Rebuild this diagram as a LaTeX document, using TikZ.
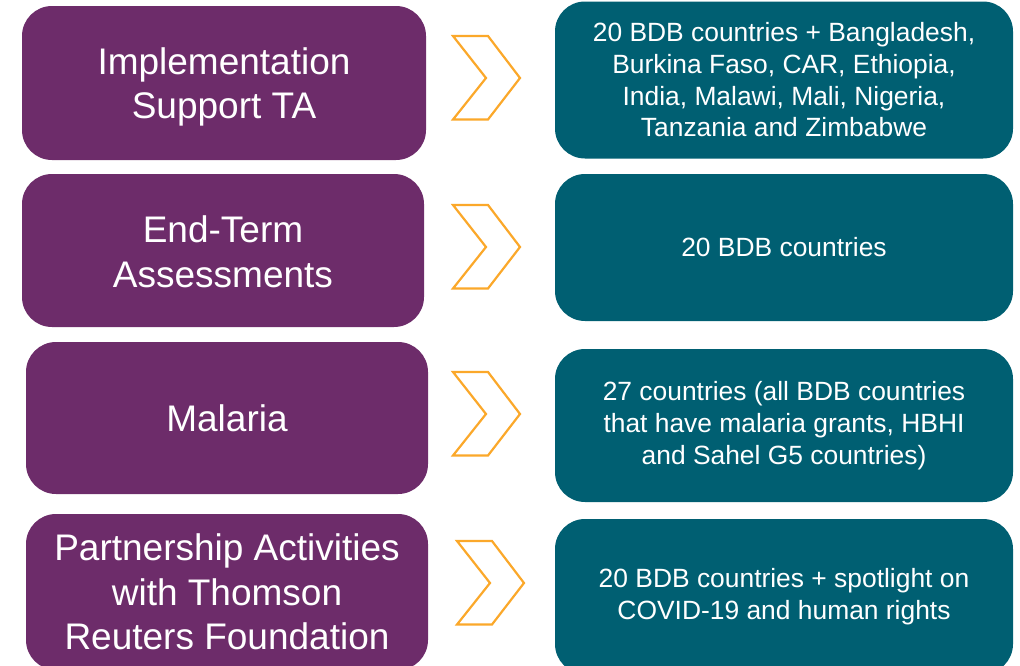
\documentclass[tikz,border=0pt]{standalone}
\usepackage{fontspec}
\setmainfont{Liberation Sans}
\definecolor{pur}{HTML}{6D2C6A}
\definecolor{tea}{HTML}{005F72}
\definecolor{org}{HTML}{FBA82A}
\tikzset{
  lbox/.style={fill=pur, draw=none, rounded corners=30pt, inner sep=0pt, text=white,
    align=center, font=\fontsize{37}{44.4}\selectfont},
  rbox/.style={fill=tea, draw=none, rounded corners=30pt, inner sep=0pt, text=white,
    align=center, font=\fontsize{26.4}{31.7}\selectfont},
  chev/.style={draw=org, line width=2.2pt, line join=miter}
}
\begin{document}
\begin{tikzpicture}[x=1pt,y=-1pt]
\useasboundingbox (0,0) rectangle (1020,665);
\begin{scope}
\clip (0,0) rectangle (1020,665);
\node[lbox, minimum width=404pt, minimum height=154pt] (l1) at (224,83) {\rule{0pt}{35pt}Implementation\\Support TA};
\node[lbox, minimum width=402pt, minimum height=153pt] (l2) at (223,250.5) {\rule{0pt}{29pt}End-Term\\Assessments};
\node[lbox, minimum width=402pt, minimum height=152pt] (l3) at (227,418) {Malaria};
\node[lbox, minimum width=402pt, minimum height=156pt] (l4) at (227,592) {Partnership Activities\\with Thomson\\Reuters Foundation};
\node[rbox, minimum width=458pt, minimum height=157pt] (r1) at (784,80) {20 BDB countries + Bangladesh,\\Burkina Faso, CAR, Ethiopia,\\India, Malawi, Mali, Nigeria,\\Tanzania and Zimbabwe};
\node[rbox, minimum width=458pt, minimum height=147pt] (r2) at (784,247.5) {20 BDB countries};
\node[rbox, minimum width=458pt, minimum height=153pt] (r3) at (784,425.5) {27 countries (all BDB countries\\that have malaria grants, HBHI\\and Sahel G5 countries)};
\node[rbox, minimum width=458pt, minimum height=155pt] (r4) at (784,596.5) {20 BDB countries + spotlight on\\COVID-19 and human rights};
\foreach \cx/\cy in {453/36, 453/205, 453/372, 457/541} {
  \draw[chev] (\cx,\cy) -- ++(35,0) -- ++(32,42) -- ++(-32,41.5) -- ++(-35,0) -- ++(33,-41.5) -- cycle;
}
\end{scope}
\end{tikzpicture}
\end{document}
